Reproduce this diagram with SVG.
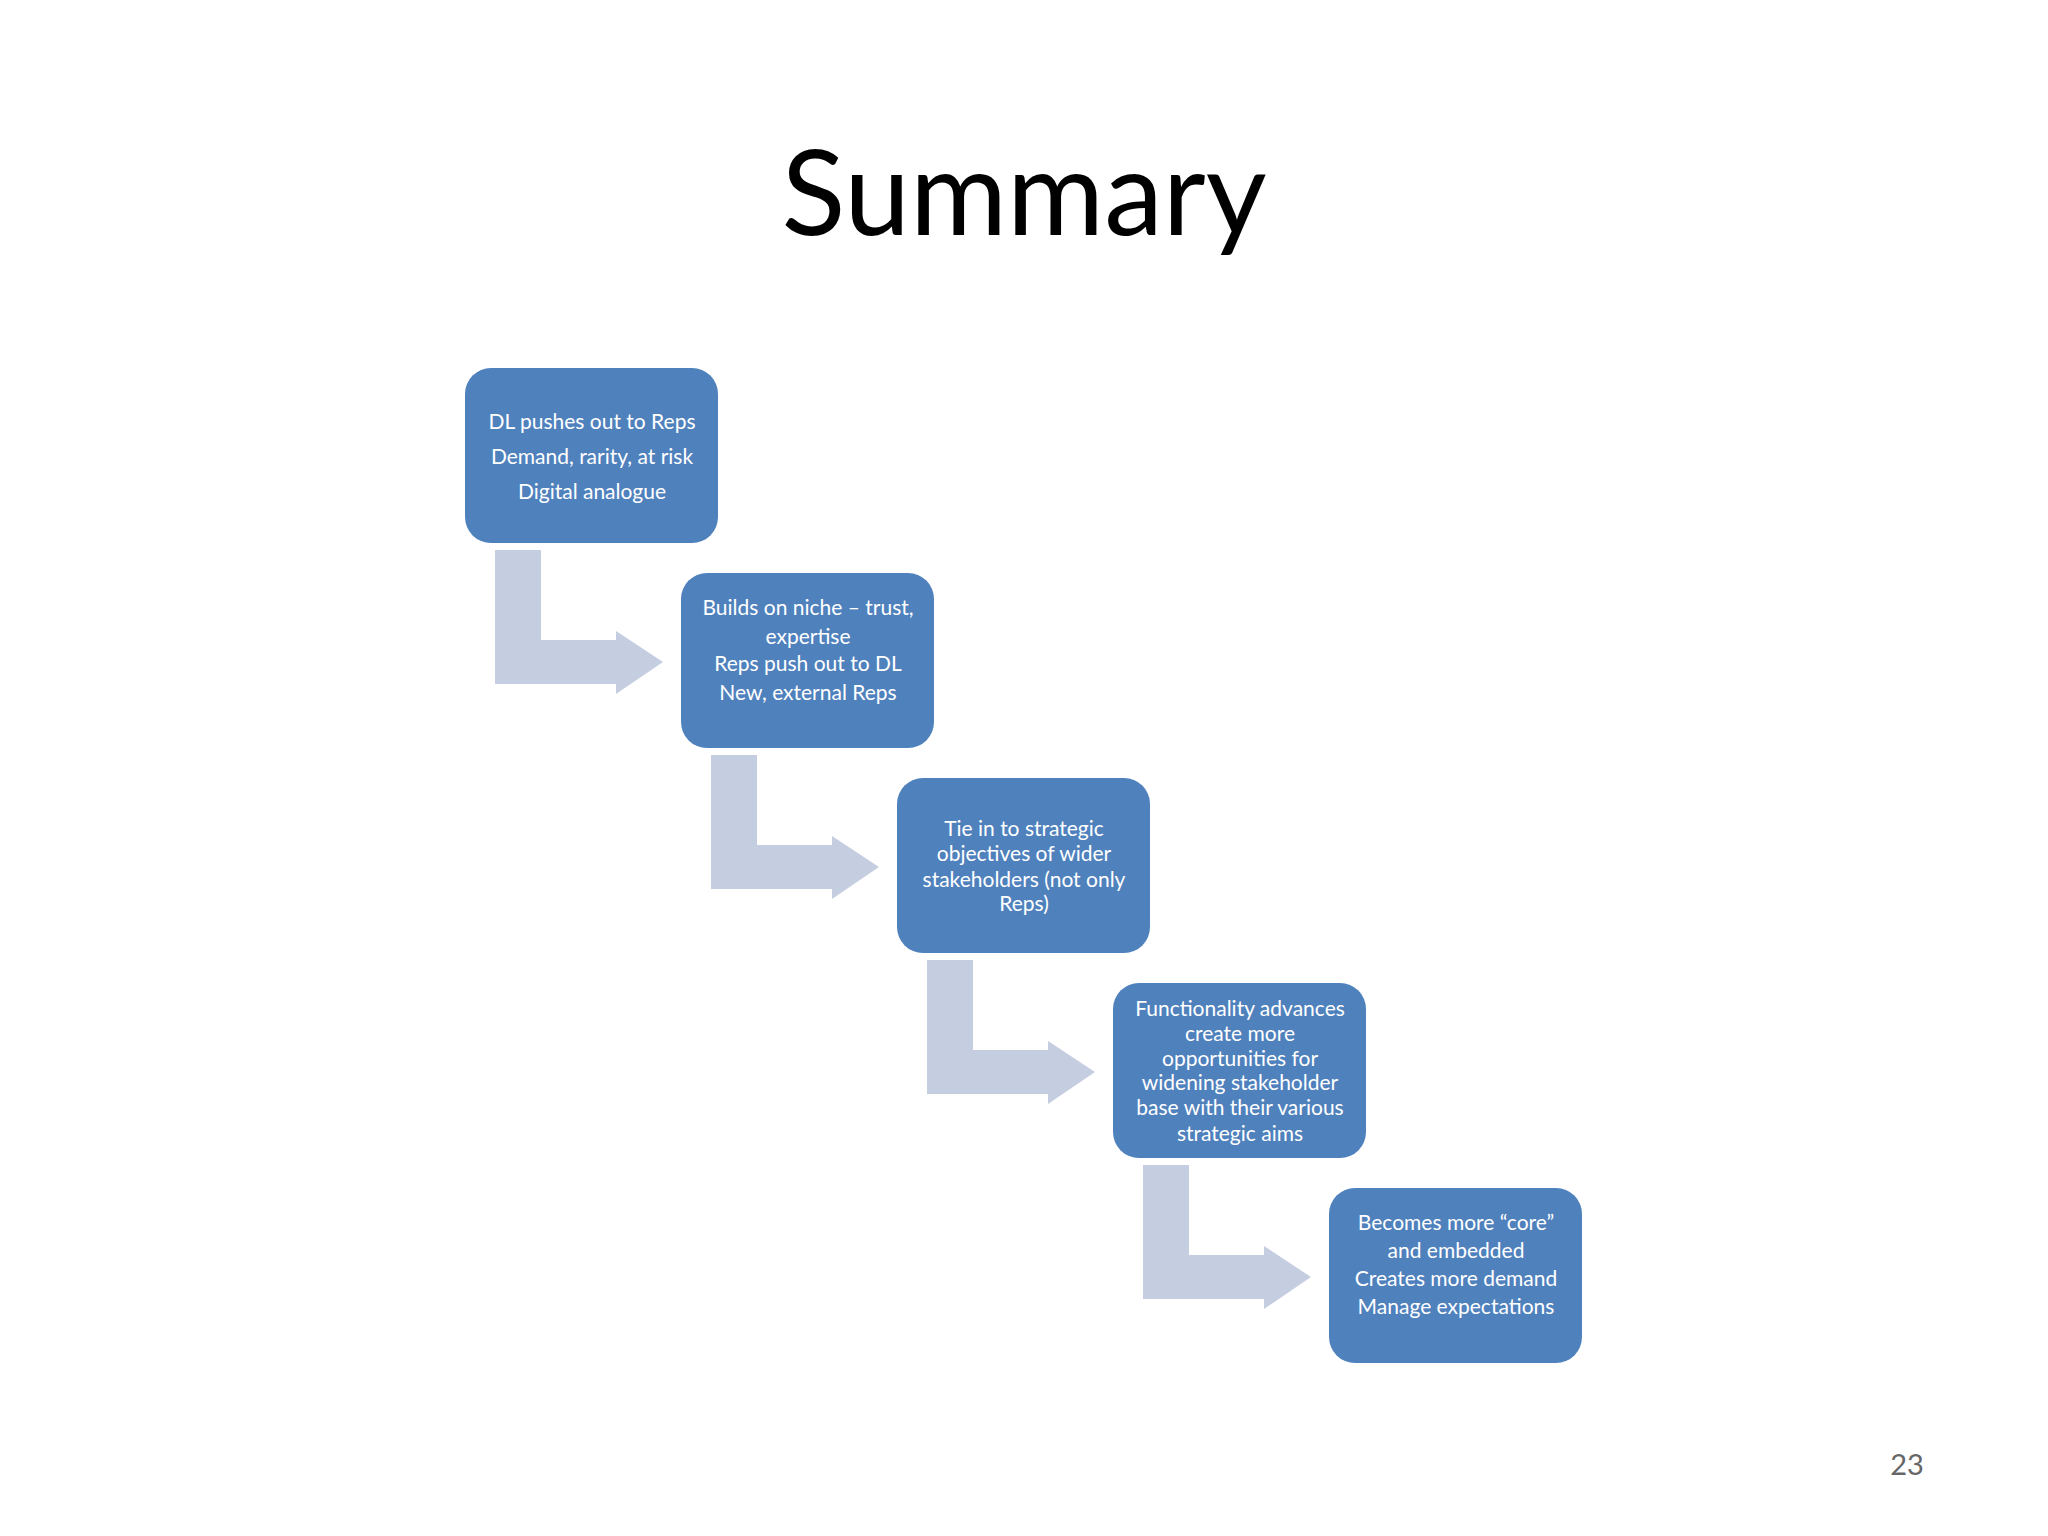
<svg xmlns="http://www.w3.org/2000/svg" width="2048" height="1536" viewBox="0 0 2048 1536">
<style>
.box{fill:#4F81BD;}
.arr{fill:#C5CDE0;}
.t{font-family:Lato,"Open Sans",sans-serif;font-size:21px;fill:#fff;text-anchor:middle;dominant-baseline:central;}
</style>
<defs>
<path id="a" class="arr" d="M495,550 H541 V640 H616 V631 L663,662 L616,694 V684 H495 Z"/>
</defs>
<rect width="2048" height="1536" fill="#fff"/>
<text x="1024" y="235" font-family="Lato,'Open Sans',sans-serif" font-size="118" text-anchor="middle" fill="#000">Summary</text>
<g id="connectors">
<use href="#a"/>
<use href="#a" x="216" y="205"/>
<use href="#a" x="432" y="410"/>
<use href="#a" x="648" y="615"/>
</g>
<g id="n1"><rect class="box" x="465" y="368" width="253" height="175" rx="26"/>
<text class="t" x="592" y="420">DL pushes out to Reps</text>
<text class="t" x="592" y="455">Demand, rarity, at risk</text>
<text class="t" x="592" y="490">Digital analogue</text></g>
<g id="n2"><rect class="box" x="681" y="573" width="253" height="175" rx="26"/>
<text class="t" x="808" y="606">Builds on niche – trust,</text>
<text class="t" x="808" y="635">expertise</text>
<text class="t" x="808" y="662">Reps push out to DL</text>
<text class="t" x="808" y="691">New, external Reps</text></g>
<g id="n3"><rect class="box" x="897" y="778" width="253" height="175" rx="26"/>
<text class="t" x="1024" y="827">Tie in to strategic</text>
<text class="t" x="1024" y="852">objectives of wider</text>
<text class="t" x="1024" y="878">stakeholders (not only</text>
<text class="t" x="1024" y="902">Reps)</text></g>
<g id="n4"><rect class="box" x="1113" y="983" width="253" height="175" rx="26"/>
<text class="t" x="1240" y="1007">Functionality advances</text>
<text class="t" x="1240" y="1032">create more</text>
<text class="t" x="1240" y="1057">opportunities for</text>
<text class="t" x="1240" y="1081">widening stakeholder</text>
<text class="t" x="1240" y="1106">base with their various</text>
<text class="t" x="1240" y="1132">strategic aims</text></g>
<g id="n5"><rect class="box" x="1329" y="1188" width="253" height="175" rx="26"/>
<text class="t" x="1456" y="1221">Becomes more “core”</text>
<text class="t" x="1456" y="1249">and embedded</text>
<text class="t" x="1456" y="1277">Creates more demand</text>
<text class="t" x="1456" y="1305">Manage expectations</text></g>
<text x="1907" y="1475" font-family="Lato,'Open Sans',sans-serif" font-size="29" text-anchor="middle" fill="#666">23</text>
</svg>
